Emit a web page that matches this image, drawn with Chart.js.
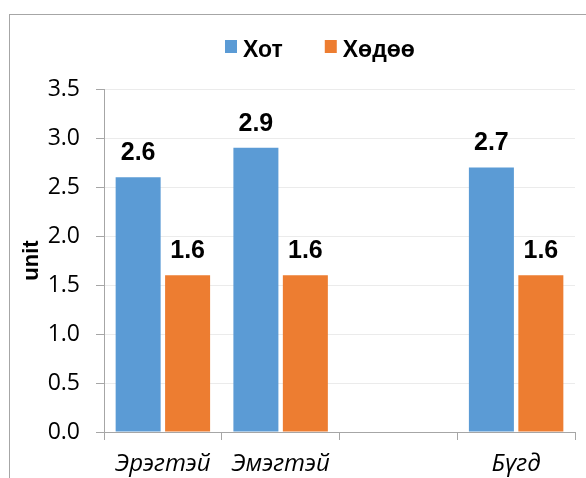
<!DOCTYPE html>
<html>
<head>
<meta charset="utf-8">
<script src="https://cdn.jsdelivr.net/npm/chart.js@4"></script>
<style>
  html, body { margin: 0; padding: 0; background: #fff; overflow: hidden; }
  #wrap { position: relative; width: 586px; height: 478px; }
  #frame { position: absolute; left: 9px; top: 14px; width: 620px; height: 520px; border: 1px solid #a6a6a6; }
  canvas { position: absolute; left: 0; top: 0; }
</style>
</head>
<body>
<div id="wrap">
  <div id="frame"></div>
  <canvas id="barChart" width="586" height="478"></canvas>
</div>
<script>
// categories and values
var categories = ["Эрэгтэй", "Эмэгтэй", "", "Бүгд"];
var seriesNames = ["Хот", "Хөдөө"];
var khot = [2.6, 2.9, null, 2.7];
var khodoo = [1.6, 1.6, null, 1.6];
var yTicks = [0, 0.5, 1.0, 1.5, 2.0, 2.5, 3.0, 3.5];

var colors = ["#5B9BD5", "#ED7D31"];

// value labels above each bar
var valueLabels = {
  id: 'valueLabels',
  afterDatasetsDraw: function(chart) {
    var ctx = chart.ctx;
    ctx.save();
    ctx.font = "bold 25px 'Liberation Sans', Arial, sans-serif";
    ctx.fillStyle = "#000";
    ctx.textAlign = "center";
    ctx.textBaseline = "alphabetic";
    chart.data.datasets.forEach(function(ds, i) {
      chart.getDatasetMeta(i).data.forEach(function(bar, j) {
        if (ds.data[j] == null) return;
        ctx.fillText(ds.data[j].toFixed(1), bar.x, bar.y - 17);
      });
    });
    ctx.restore();
  }
};

// legend drawn at the top, like the original
var topLegend = {
  id: 'topLegend',
  afterDraw: function(chart) {
    var ctx = chart.ctx;
    ctx.save();
    ctx.font = "bold 23px 'Liberation Sans', Arial, sans-serif";
    ctx.textBaseline = "alphabetic";
    ctx.textAlign = "left";
    var x = 225;
    seriesNames.forEach(function(name, i) {
      ctx.fillStyle = colors[i];
      ctx.fillRect(x, 40, 12, 13);
      ctx.fillStyle = "#000";
      ctx.fillText(name, x + 18, 57);
      x += 18 + ctx.measureText(name).width + 42;
    });
    ctx.restore();
  }
};

var ctxB = document.getElementById("barChart").getContext('2d');
var myBarChart = new Chart(ctxB, {
  type: 'bar',
  data: {
    labels: categories,
    datasets: [{
      label: seriesNames[0],
      data: khot,
      backgroundColor: colors[0]
    }, {
      label: seriesNames[1],
      data: khodoo,
      backgroundColor: colors[1]
    }]
  },
  options: {
    responsive: false,
    animation: false,
    categoryPercentage: 0.84,
    barPercentage: 0.91,
    layout: { padding: { top: 89, left: 10, right: 11, bottom: 0 } },
    plugins: {
      legend: { display: false },
      tooltip: { enabled: false }
    },
    scales: {
      x: {
        grid: { drawOnChartArea: false, tickLength: 8, tickColor: '#a6a6a6' },
        border: { color: '#a6a6a6' },
        ticks: {
          padding: 10,
          color: '#000',
          maxRotation: 0,
          font: { family: "'Open Sans', sans-serif", size: 24, style: 'italic' }
        },
        afterFit: function(scale) { scale.height = 46; }
      },
      y: {
        min: 0,
        max: 3.5,
        afterBuildTicks: function(scale) {
          scale.ticks = yTicks.map(function(v) { return { value: v }; });
        },
        grid: { color: '#ebebeb', tickLength: 8, tickColor: '#a6a6a6' },
        border: { color: '#a6a6a6' },
        ticks: {
          padding: 16,
          color: '#000',
          font: { family: "'Open Sans', sans-serif", size: 23 },
          callback: function(v) { return Number(v).toFixed(1); }
        },
        title: {
          display: true,
          text: 'unit',
          color: '#000',
          padding: { top: 9, bottom: 0 },
          font: { family: "'Liberation Sans', Arial, sans-serif", size: 22, weight: 'bold' }
        },
        afterFit: function(scale) { scale.width = 94; }
      }
    }
  },
  plugins: [valueLabels, topLegend]
});
</script>
</body>
</html>
